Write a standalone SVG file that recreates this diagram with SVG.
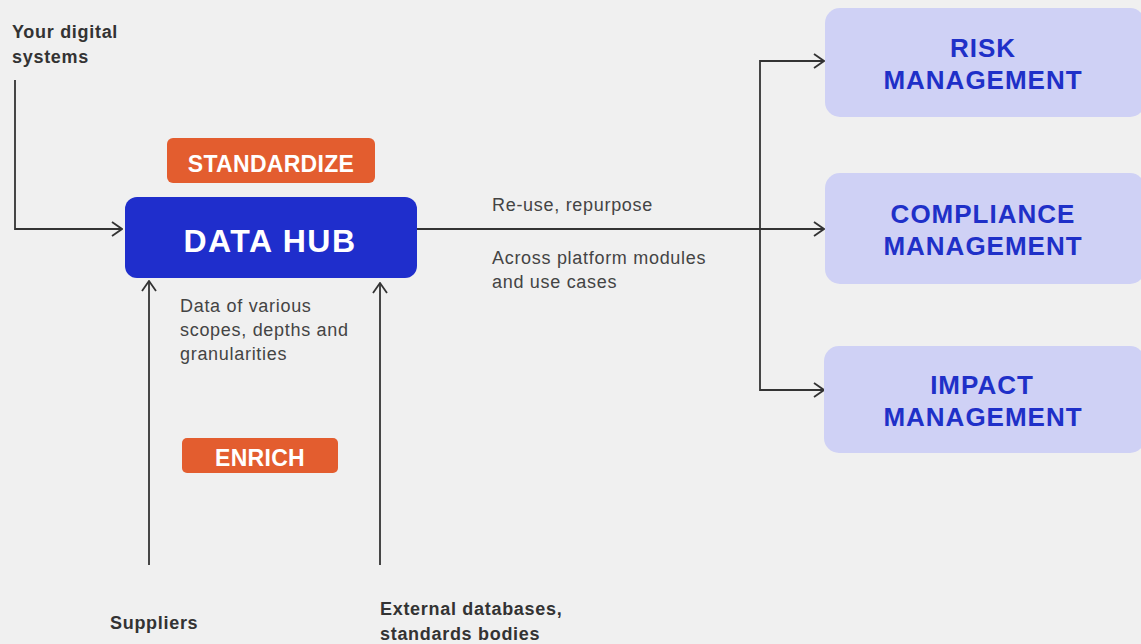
<svg xmlns="http://www.w3.org/2000/svg" width="1141" height="644" viewBox="0 0 1141 644">
<defs>
<style>
.lbl{font-family:"Liberation Sans",Arial,sans-serif;font-size:18px;fill:#444;letter-spacing:0.7px}
.src{font-family:"Liberation Sans",Arial,sans-serif;font-size:18px;font-weight:bold;fill:#333;letter-spacing:0.7px}
.tag{font-family:"Liberation Sans",Arial,sans-serif;font-size:23px;font-weight:bold;fill:#fff;text-anchor:middle;letter-spacing:0.3px}
.hub{font-family:"Liberation Sans",Arial,sans-serif;font-size:32px;font-weight:bold;fill:#fff;text-anchor:middle;letter-spacing:1.5px}
.mod{font-family:"Liberation Sans",Arial,sans-serif;font-size:26px;font-weight:bold;fill:#1f30c8;text-anchor:middle;letter-spacing:1px}
.ln{fill:none;stroke:#333;stroke-width:1.8}
</style>
<marker id="ah" viewBox="0 0 12 16" refX="11" refY="8" markerWidth="12" markerHeight="16" markerUnits="userSpaceOnUse" orient="auto">
<path d="M1,1 L11,8 L1,15" fill="none" stroke="#333" stroke-width="1.8"/>
</marker>
</defs>
<rect width="1141" height="644" fill="#f0f0f0"/>

<g id="connectors">
<path class="ln" d="M15,80 V229 H122" marker-end="url(#ah)"/>
<path class="ln" d="M417,229 H824" marker-end="url(#ah)"/>
<path class="ln" d="M824,61 H760 V390 H824" marker-end="url(#ah)"/>
<path class="ln" d="M760,61 H824" marker-end="url(#ah)"/>
<path class="ln" d="M149,565 V281" marker-end="url(#ah)"/>
<path class="ln" d="M380,565 V283" marker-end="url(#ah)"/>
</g>

<g id="label-your-digital-systems">
<text class="src" x="12" y="38">Your digital</text>
<text class="src" x="12" y="63">systems</text>
</g>

<g id="standardize">
<rect x="167" y="138" width="208" height="45" rx="6" fill="#e35d2f"/>
<text class="tag" x="271" y="172">STANDARDIZE</text>
</g>

<g id="data-hub">
<rect x="125" y="197" width="292" height="81" rx="12" fill="#1f2ecc"/>
<text class="hub" x="270" y="252">DATA HUB</text>
</g>

<g id="label-reuse">
<text class="lbl" x="492" y="211">Re-use, repurpose</text>
<text class="lbl" x="492" y="264">Across platform modules</text>
<text class="lbl" x="492" y="288">and use cases</text>
</g>

<g id="label-data">
<text class="lbl" x="180" y="312">Data of various</text>
<text class="lbl" x="180" y="336">scopes, depths and</text>
<text class="lbl" x="180" y="360">granularities</text>
</g>

<g id="enrich">
<rect x="182" y="438" width="156" height="35" rx="5" fill="#e35d2f"/>
<text class="tag" x="260" y="466">ENRICH</text>
</g>

<g id="risk">
<rect x="825" y="8" width="320" height="109" rx="15" fill="#cfd1f5"/>
<text class="mod" x="983" y="57">RISK</text>
<text class="mod" x="983" y="89">MANAGEMENT</text>
</g>

<g id="compliance">
<rect x="825" y="173" width="320" height="111" rx="15" fill="#cfd1f5"/>
<text class="mod" x="983" y="223">COMPLIANCE</text>
<text class="mod" x="983" y="255">MANAGEMENT</text>
</g>

<g id="impact">
<rect x="824" y="346" width="321" height="107" rx="15" fill="#cfd1f5"/>
<text class="mod" x="982" y="394">IMPACT</text>
<text class="mod" x="983" y="426">MANAGEMENT</text>
</g>

<g id="label-suppliers">
<text class="src" x="110" y="629">Suppliers</text>
</g>

<g id="label-external">
<text class="src" x="380" y="615">External databases,</text>
<text class="src" x="380" y="640">standards bodies</text>
</g>
</svg>
